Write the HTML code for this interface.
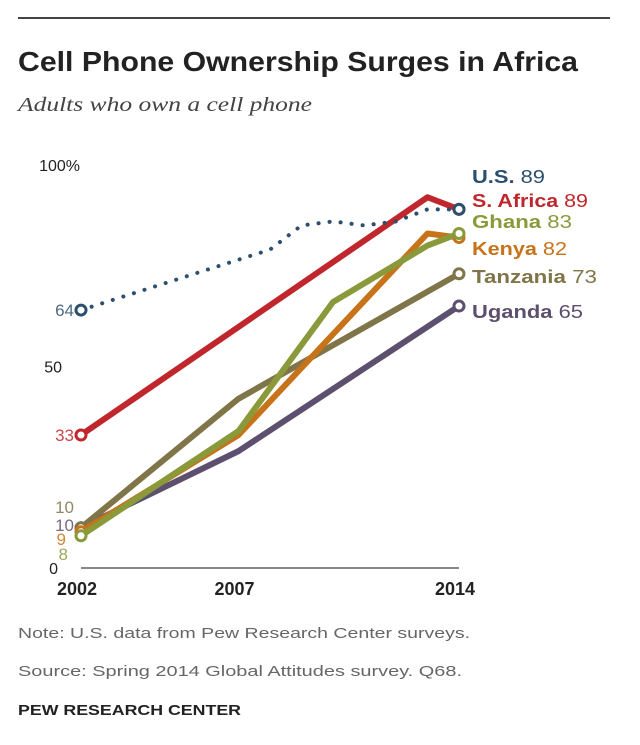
<!DOCTYPE html>
<html><head><meta charset="utf-8"><style>
body{margin:0;background:#fff;width:640px;height:740px;overflow:hidden;font-family:"Liberation Sans",sans-serif}
</style></head><body>
<svg width="640" height="740">
<line x1="18" y1="18" x2="610" y2="18" stroke="#444" stroke-width="2"/>
<text x="18" y="71" font-size="28" font-weight="bold" fill="#222" textLength="560" lengthAdjust="spacingAndGlyphs">Cell Phone Ownership Surges in Africa</text>
<text x="18" y="111" font-size="20" font-style="italic" font-family="Liberation Serif,serif" fill="#444" textLength="294" lengthAdjust="spacingAndGlyphs">Adults who own a cell phone</text>
<g id="axes"></g>
<g id="plot"></g>
<text x="18" y="638" font-size="15" fill="#666" textLength="452" lengthAdjust="spacingAndGlyphs">Note: U.S. data from Pew Research Center surveys.</text>
<text x="18" y="676" font-size="15" fill="#666" textLength="444" lengthAdjust="spacingAndGlyphs">Source: Spring 2014 Global Attitudes survey. Q68.</text>
<text x="18" y="715" font-size="15" font-weight="bold" fill="#222" textLength="223" lengthAdjust="spacingAndGlyphs">PEW RESEARCH CENTER</text>
</svg>
<script>
const yTicks=[0,50,100];
const yTickLabels=["0","50","100%"];
const xTicks=[2002,2007,2014];
const names=["U.S.","S. Africa","Ghana","Kenya","Tanzania","Uganda"];
const usYears=[2002,2008,2009,2010,2011,2012,2013,2014];
const usVals=[64,79,85,86,85,86,89,89];
const saYears=[2002,2013,2014];
const saVals=[33,92,89];
const ghYears=[2002,2007,2010,2013,2014];
const ghVals=[8,34,66,80,83];
const keYears=[2002,2007,2013,2014];
const keVals=[9,33,83,82];
const tzYears=[2002,2007,2014];
const tzVals=[10,42,73];
const ugYears=[2002,2007,2014];
const ugVals=[10,29,65];
const colors=["#2c4f6e","#c0272d","#8a9a3a","#c6731a","#7f7548","#5d4f6e"];
const X=y=>81+(y-2002)*31.5, Y=v=>568-v*4.03;
const NS="http://www.w3.org/2000/svg";
function mk(t,a,p){const e=document.createElementNS(NS,t);for(const k in a)e.setAttribute(k,a[k]);p.appendChild(e);return e;}
const ax=document.getElementById('axes'),pl=document.getElementById('plot');
const base=mk('line',{x1:81,y1:Y(0),x2:459,y2:Y(0),stroke:'#888','stroke-width':2},ax);


yTicks.forEach((v,i)=>{const t=mk('text',{x:i==0?58:(i==1?62:80),y:Y(v)+6,'font-size':16,fill:'#222','text-anchor':'end'},ax);t.textContent=yTickLabels[i];

});
xTicks.forEach(v=>{const t=mk('text',{x:X(v)-4,y:595,'font-size':18,'font-weight':'bold',fill:'#222','text-anchor':'middle'},ax);t.textContent=v;

});
const series=[[usYears,usVals],[saYears,saVals],[ghYears,ghVals],[keYears,keVals],[tzYears,tzVals],[ugYears,ugVals]];
const order=[5,4,3,2,1,0];
order.forEach(i=>{const [ys,vs]=series[i];const d=ys.map((y,j)=>(j?'L':'M')+X(y)+','+Y(vs[j])).join('');
const a={d:d,fill:'none',stroke:colors[i],'stroke-width':i==0?4:6,'stroke-linejoin':'round','stroke-linecap':'round'};
if(i==0){a['stroke-dasharray']='0.1 11';}
const p=mk('path',a,pl);


[0,ys.length-1].forEach(j=>{const c=mk('circle',{cx:X(ys[j]),cy:Y(vs[j]),r:5,fill:'#fff',stroke:colors[i],'stroke-width':3},pl);

});});
// end labels
const endY=[183,207,228,255,283,318];
const endW=[73,116,100,95,125,111];
names.forEach((n,i)=>{const vs=series[i][1];const t=mk('text',{x:472,y:endY[i],'font-size':18,fill:colors[i],textLength:endW[i],lengthAdjust:'spacingAndGlyphs'},pl);
const b=mk('tspan',{'font-weight':'bold'},t);b.textContent=n+' ';const s=mk('tspan',{},t);s.textContent=vs[vs.length-1]==92?89:vs[vs.length-1];

});
// start labels
const startY=[316,441,560,545,513,531];
const startX=[74,74,68,66,74,74];
names.forEach((n,i)=>{const t=mk('text',{x:startX[i],y:startY[i],'font-size':17,fill:colors[i],'text-anchor':'end',opacity:0.85},pl);t.textContent=series[i][1][0];

});
</script>
</body></html>
